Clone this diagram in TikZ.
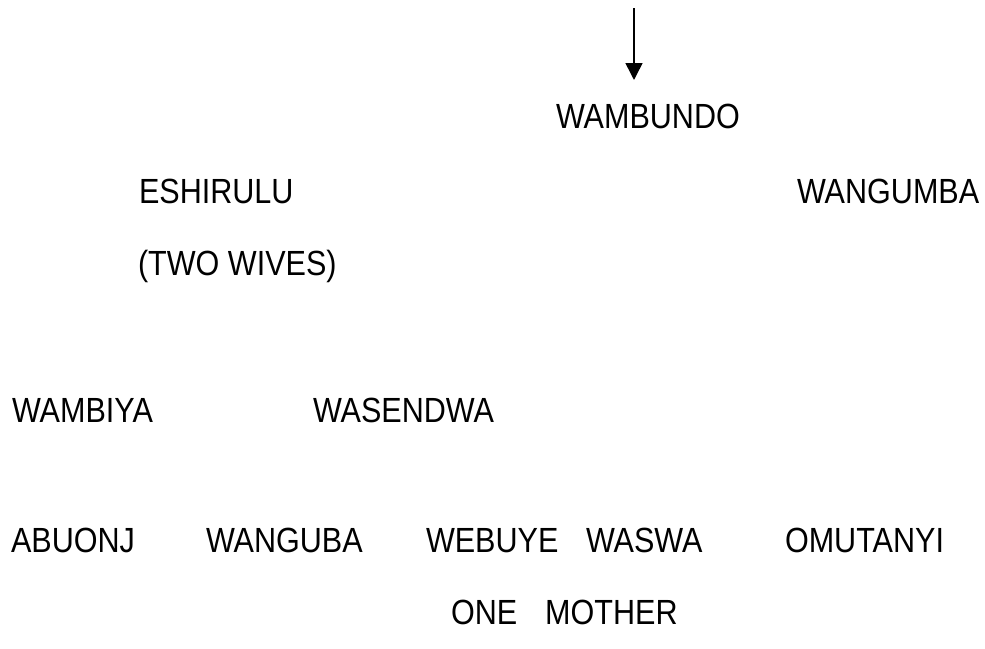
\documentclass[tikz,border=0pt]{standalone}
\usepackage{fontspec}
\setmainfont{Liberation Sans}[FakeStretch=0.874]
\usepackage{tikz}
\usetikzlibrary{arrows.meta,positioning}

\begin{document}
\begin{tikzpicture}[
  x=0.02cm, y=-0.02cm,
  font=\fontsize{19.9}{24}\selectfont,
  person/.style={anchor=base west, inner sep=0pt, outer sep=0pt},
  >={Triangle[length=0.34cm, width=0.34cm]},
  arrline/.style={->, line width=0.85pt},
]
\useasboundingbox (0,0) rectangle (985,649);

% ============ Top: incoming arrow and WAMBUNDO ============
\coordinate (arrtop) at (634,8);
\coordinate (arrtip) at (634,80);
\draw[arrline] (arrtop) -- (arrtip);
\node[person] (wambundo) at (556,128) {WAMBUNDO};

% ============ Second generation ============
\node[person] (eshirulu) at (139,203) {ESHIRULU};
\node[person] (twowives) at (138,275) {(TWO WIVES)};
\node[person] (wangumba) at (797,203) {WANGUMBA};

% ============ The two wives ============
\node[person] (wambiya) at (12,422) {WAMBIYA};
\node[person] (wasendwa) at (313,422) {WASENDWA};

% ============ Children ============
\node[person] (abuonj) at (11,552) {ABUONJ};
\node[person] (wanguba) at (206,552) {WANGUBA};
\node[person] (webuye) at (426,552) {WEBUYE};
\node[person] (waswa) at (586,552) {WASWA};
\node[person] (omutanyi) at (785,552) {OMUTANYI};
\node[person] (onemother) at (451,624) {ONE\hspace{0.56cm}MOTHER};

\end{tikzpicture}
\end{document}
